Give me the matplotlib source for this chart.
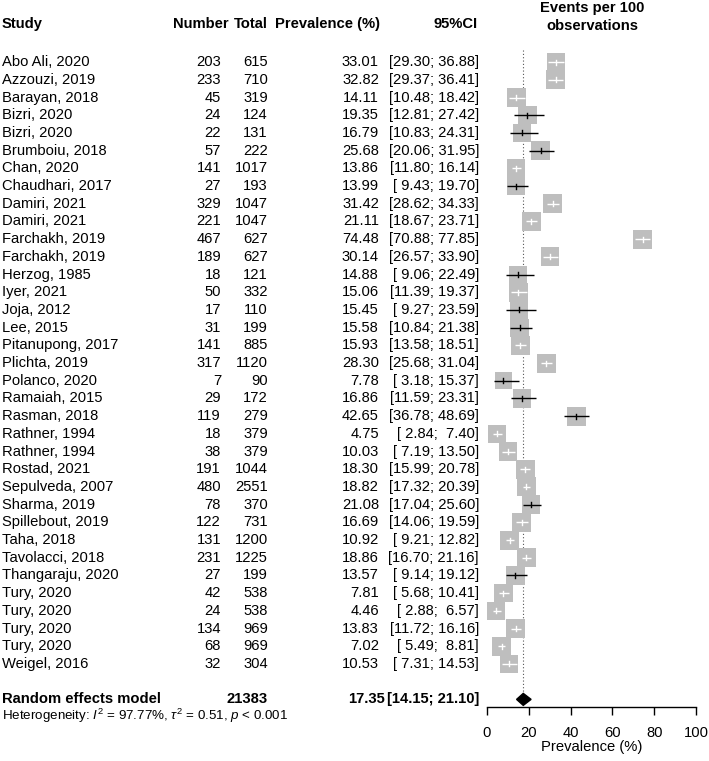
import numpy as np
import matplotlib.pyplot as plt
from matplotlib.transforms import blended_transform_factory
from matplotlib.patches import Rectangle, Polygon

plt.rcParams['font.family'] = ['Liberation Sans', 'DejaVu Sans']
plt.rcParams['mathtext.fontset'] = 'custom'
plt.rcParams['mathtext.rm'] = 'Liberation Sans'
plt.rcParams['mathtext.it'] = 'Liberation Sans:italic'

studies = ["Abo Ali, 2020", "Azzouzi, 2019", "Barayan, 2018", "Bizri, 2020", "Bizri, 2020",
           "Brumboiu, 2018", "Chan, 2020", "Chaudhari, 2017", "Damiri, 2021", "Damiri, 2021",
           "Farchakh, 2019", "Farchakh, 2019", "Herzog, 1985", "Iyer, 2021", "Joja, 2012",
           "Lee, 2015", "Pitanupong, 2017", "Plichta, 2019", "Polanco, 2020", "Ramaiah, 2015",
           "Rasman, 2018", "Rathner, 1994", "Rathner, 1994", "Rostad, 2021", "Sepulveda, 2007",
           "Sharma, 2019", "Spillebout, 2019", "Taha, 2018", "Tavolacci, 2018", "Thangaraju, 2020",
           "Tury, 2020", "Tury, 2020", "Tury, 2020", "Tury, 2020", "Weigel, 2016"]
events = [203, 233, 45, 24, 22, 57, 141, 27, 329, 221, 467, 189, 18, 50, 17, 31, 141, 317, 7, 29,
          119, 18, 38, 191, 480, 78, 122, 131, 231, 27, 42, 24, 134, 68, 32]
totals = [615, 710, 319, 124, 131, 222, 1017, 193, 1047, 1047, 627, 627, 121, 332, 110, 199, 885,
          1120, 90, 172, 279, 379, 379, 1044, 2551, 370, 731, 1200, 1225, 199, 538, 538, 969, 969, 304]
prevalence = [33.01, 32.82, 14.11, 19.35, 16.79, 25.68, 13.86, 13.99, 31.42, 21.11, 74.48, 30.14,
              14.88, 15.06, 15.45, 15.58, 15.93, 28.30, 7.78, 16.86, 42.65, 4.75, 10.03, 18.30,
              18.82, 21.08, 16.69, 10.92, 18.86, 13.57, 7.81, 4.46, 13.83, 7.02, 10.53]
ci_low = [29.30, 29.37, 10.48, 12.81, 10.83, 20.06, 11.80, 9.43, 28.62, 18.67, 70.88, 26.57,
          9.06, 11.39, 9.27, 10.84, 13.58, 25.68, 3.18, 11.59, 36.78, 2.84, 7.19, 15.99,
          17.32, 17.04, 14.06, 9.21, 16.70, 9.14, 5.68, 2.88, 11.72, 5.49, 7.31]
ci_high = [36.88, 36.41, 18.42, 27.42, 24.31, 31.95, 16.14, 19.70, 34.33, 23.71, 77.85, 33.90,
           22.49, 19.37, 23.59, 21.38, 18.51, 31.04, 15.37, 23.31, 48.69, 7.40, 13.50, 20.78,
           20.39, 25.60, 19.59, 12.82, 21.16, 19.12, 10.41, 6.57, 16.16, 8.81, 14.53]

pooled_total = 21383
pooled = 17.35
pooled_low, pooled_high = 14.15, 21.10
i2, tau2 = 97.77, 0.51
x_ticks = [0, 20, 40, 60, 80, 100]

W, H, DPI = 709, 761, 100
FS = 10.6
fig = plt.figure(figsize=(W / DPI, H / DPI), dpi=DPI)

n = len(studies)
pooled_y = n + 1
y_top, y_bot = -0.7, pooled_y + 0.43

ax = fig.add_axes([487 / W, (H - 707) / H, 209 / W, (707 - 49.8) / H])
ax.set_xlim(0, 100)
ax.set_ylim(y_bot, y_top)
px_x = ax.bbox.width / 100
px_y = ax.bbox.height / (y_bot - y_top)

# random-effects weights on logit scale -> square size
p = np.array(events) / np.array(totals)
v = 1 / (np.array(totals) * p * (1 - p))
w = 1 / (v + tau2)
side = 19 * np.sqrt(w / w.max())

for i in range(n):
    est, lo, hi = prevalence[i], ci_low[i], ci_high[i]
    hx = side[i] / 2 / px_x
    hy = side[i] / 2 / px_y
    ax.add_patch(Rectangle((est - hx, i - hy), 2 * hx, 2 * hy, color='#BEBEBE', lw=0, zorder=2))
    inside = lo >= est - hx and hi <= est + hx
    col = 'white' if inside else 'black'
    ax.plot([lo, hi], [i, i], color=col, lw=1, zorder=3, solid_capstyle='butt')
    t = 2.5 / px_y
    ax.plot([est, est], [i - t, i + t], color=col, lw=1, zorder=3)

dh = 6 / px_y
ax.plot([pooled, pooled], [y_top, pooled_y - dh], color='#555555', ls=(0, (1, 2)), lw=0.8, zorder=1)
ax.add_patch(Polygon([(pooled_low, pooled_y), (pooled, pooled_y - dh),
                      (pooled_high, pooled_y), (pooled, pooled_y + dh)],
                     closed=True, color='black', zorder=3))

for s in ['top', 'left', 'right']:
    ax.spines[s].set_visible(False)
ax.spines['bottom'].set_linewidth(1)
ax.set_yticks([])
ax.set_xticks(x_ticks)
ax.tick_params(axis='x', direction='out', length=6, width=1, pad=8, labelsize=FS)
ax.set_xlabel("Prevalence (%)", fontsize=FS, labelpad=0)

tr = blended_transform_factory(fig.transFigure, ax.transData)


def put(xpx, y, s, ha='left', bold=False, size=FS):
    ax.text(xpx / W, y, s, transform=tr, ha=ha, va='center', fontsize=size,
            fontweight='bold' if bold else 'normal', clip_on=False)


y_head = (23 - 62.5) / 18.19
put(2, y_head, "Study", bold=True)
put(229, y_head, "Number", ha='right', bold=True)
put(268, y_head, "Total", ha='right', bold=True)
put(380, y_head, "Prevalence (%)", ha='right', bold=True)
put(478, y_head, "95%CI", ha='right', bold=True)
put(592, (7 - 62.5) / 18.19, "Events per 100", ha='center', bold=True)
put(592, (25 - 62.5) / 18.19, "observations", ha='center', bold=True)

for i in range(n):
    put(2, i, studies[i])
    put(221, i, str(events[i]), ha='right')
    put(268, i, str(totals[i]), ha='right')
    put(379, i, f"{prevalence[i]:.2f}", ha='right')
    put(479, i, f"[{ci_low[i]:5.2f}; {ci_high[i]:5.2f}]", ha='right')

put(2, pooled_y, "Random effects model", bold=True)
put(268, pooled_y, str(pooled_total), ha='right', bold=True)
put(385, pooled_y, f"{pooled:.2f}", ha='right', bold=True)
put(479, pooled_y, f"[{pooled_low:.2f}; {pooled_high:.2f}]", ha='right', bold=True)

het = rf"Heterogeneity: $I^2$ = {i2:.2f}%, $\tau^2$ = {tau2:.2f}, $p$ < 0.001"
fig.text(2 / W, 1 - 716 / H, het, ha='left', va='center', fontsize=9.6)

fig.savefig("out.png", dpi=DPI)
